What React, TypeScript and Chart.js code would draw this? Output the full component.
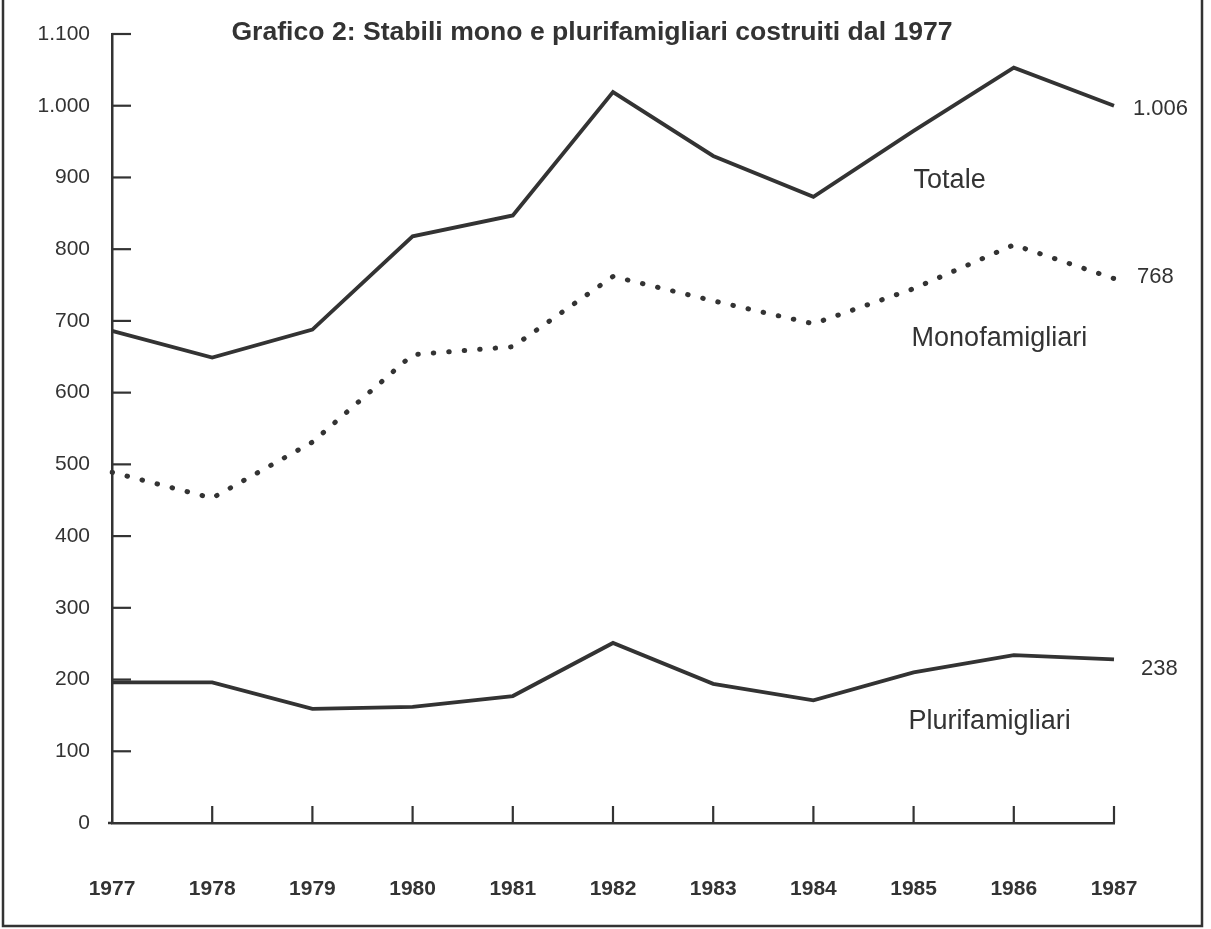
import React, { useEffect, useRef } from 'react';
import { Chart, registerables } from 'chart.js';

Chart.register(...registerables);

// ---- data ----
const years = ['1977', '1978', '1979', '1980', '1981', '1982', '1983', '1984', '1985', '1986', '1987'];
const totale = [686, 649, 688, 818, 847, 1019, 930, 873, 965, 1053, 1000];
const monofamigliari = [489, 453, 531, 653, 664, 762, 728, 696, 745, 806, 759];
const plurifamigliari = [196, 196, 159, 162, 177, 251, 194, 171, 210, 234, 228];
const seriesNames = ['Totale', 'Monofamigliari', 'Plurifamigliari'];
const endLabels = ['1.006', '768', '238'];
const yTickValues = [0, 100, 200, 300, 400, 500, 600, 700, 800, 900, 1000, 1100];
const titleText = 'Grafico 2: Stabili mono e plurifamigliari costruiti dal 1977';

// ---- style ----
const FONT = '"Liberation Sans", Arial, Helvetica, sans-serif';
const INK = '#333333';
const W = 1211;
const H = 929;

const fmt = (v: number) =>
  v >= 1000 ? Math.floor(v / 1000) + '.' + String(v % 1000).padStart(3, '0') : String(v);

// where the series names sit: [category index, value]
const nameAnchors: [number, number][] = [
  [8, 895],
  [8, 676],
  [8, 141],
];
const nameDx = [0, -2, -5];
// offsets of end labels from last point
const endOffsets: [number, number][] = [
  [19, 3],
  [23, -2],
  [27, 9],
];

const decor = {
  id: 'decor',
  beforeDraw(chart: any) {
    const ctx = chart.ctx;
    ctx.save();
    ctx.fillStyle = '#ffffff';
    ctx.fillRect(0, 0, chart.width, chart.height);
    ctx.restore();
  },
  afterDraw(chart: any) {
    const ctx = chart.ctx;
    const xs = chart.scales.x;
    const ys = chart.scales.y;
    const area = chart.chartArea;
    ctx.save();
    ctx.strokeStyle = INK;
    ctx.lineCap = 'butt';

    // frame
    ctx.lineWidth = 2.5;
    ctx.beginPath();
    ctx.moveTo(3, 0);
    ctx.lineTo(3, 926);
    ctx.lineTo(1202, 926);
    ctx.lineTo(1202, 0);
    ctx.stroke();

    // x axis stub left of the y axis
    ctx.beginPath();
    ctx.moveTo(area.left - 4, area.bottom);
    ctx.lineTo(area.left, area.bottom);
    ctx.stroke();

    // inward y ticks
    ctx.lineWidth = 2.2;
    yTickValues.forEach((v) => {
      const py = ys.getPixelForValue(v);
      if (v === 0) return;
      ctx.beginPath();
      ctx.moveTo(area.left, py);
      ctx.lineTo(area.left + 19, py);
      ctx.stroke();
    });
    // inward x ticks
    for (let i = 1; i < years.length; i++) {
      const px = xs.getPixelForValue(i);
      ctx.beginPath();
      ctx.moveTo(px, area.bottom);
      ctx.lineTo(px, area.bottom - 17);
      ctx.stroke();
    }

    // title
    ctx.fillStyle = INK;
    ctx.font = `bold 26.6px ${FONT}`;
    ctx.textAlign = 'center';
    ctx.textBaseline = 'alphabetic';
    ctx.fillText(titleText, 592, 40);

    // series names
    ctx.font = `27px ${FONT}`;
    ctx.textAlign = 'left';
    ctx.textBaseline = 'middle';
    seriesNames.forEach((name, i) => {
      const [idx, val] = nameAnchors[i];
      ctx.fillText(name, xs.getPixelForValue(idx) + nameDx[i], ys.getPixelForValue(val));
    });

    // end labels
    ctx.font = `22px ${FONT}`;
    const datasets = chart.data.datasets;
    endLabels.forEach((lab, i) => {
      const data = datasets[i].data;
      const last = data.length - 1;
      const px = xs.getPixelForValue(last) + endOffsets[i][0];
      const py = ys.getPixelForValue(data[last]) + endOffsets[i][1];
      ctx.fillText(lab, px, py);
    });
    ctx.restore();
  },
};

export default function App() {
  const ref = useRef<HTMLCanvasElement | null>(null);

  useEffect(() => {
    if (!ref.current) return;
    const chart = new Chart(ref.current, {
      type: 'line',
      data: {
        labels: years,
        datasets: [
          {
            label: seriesNames[0],
            data: totale,
            borderColor: INK,
            borderWidth: 3.8,
            pointRadius: 0,
            tension: 0,
            fill: false,
          },
          {
            label: seriesNames[1],
            data: monofamigliari,
            borderColor: INK,
            borderWidth: 5,
            borderDash: [0.5, 15],
            borderCapStyle: 'round',
            pointRadius: 0,
            tension: 0,
            fill: false,
          },
          {
            label: seriesNames[2],
            data: plurifamigliari,
            borderColor: INK,
            borderWidth: 3.8,
            pointRadius: 0,
            tension: 0,
            fill: false,
          },
        ],
      },
      options: {
        responsive: false,
        animation: false,
        devicePixelRatio: 1,
        layout: { padding: { top: 34, right: 97, left: 0, bottom: 0 } },
        plugins: {
          legend: { display: false },
          title: { display: false },
          tooltip: { enabled: false },
        },
        scales: {
          x: {
            type: 'category',
            offset: false,
            grid: { display: false },
            border: { display: true, color: INK, width: 2.5 },
            ticks: {
              color: INK,
              font: { family: FONT, size: 21, weight: 'bold' },
              padding: 46,
              maxRotation: 0,
              autoSkip: false,
            },
            afterFit: (s: any) => {
              s.height = H - 823;
            },
          },
          y: {
            min: 0,
            max: 1100,
            grid: { display: false },
            border: { display: true, color: INK, width: 2.5 },
            ticks: {
              stepSize: 100,
              color: INK,
              font: { family: FONT, size: 21 },
              padding: 14,
              callback: (v: any) => fmt(Number(v)),
            },
            afterFit: (s: any) => {
              s.width = 112;
            },
          },
        },
      },
      plugins: [decor],
    });
    return () => chart.destroy();
  }, []);

  return (
    <div style={{ position: 'absolute', left: 0, top: 0, width: W, height: H, background: '#fff' }}>
      <canvas ref={ref} width={W} height={H} style={{ display: 'block' }} />
    </div>
  );
}
